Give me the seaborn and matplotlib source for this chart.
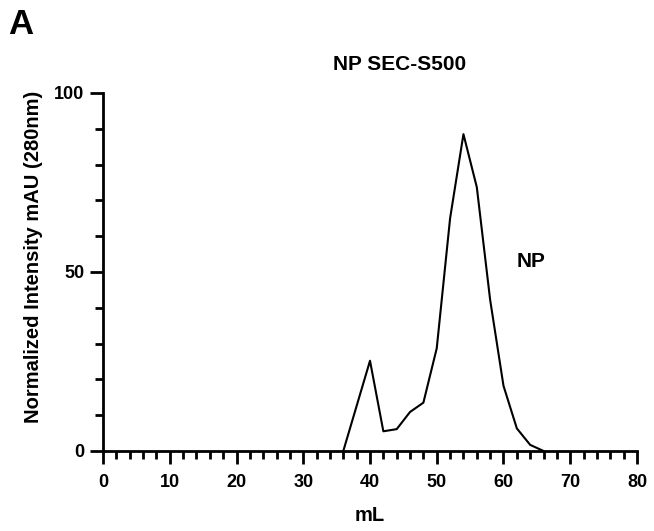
import matplotlib
matplotlib.use("Agg")
import matplotlib.pyplot as plt
from matplotlib.ticker import MultipleLocator
import seaborn as sns
import pandas as pd

# elution volume (mL) and normalized absorbance
volume_ml = [36, 40, 42, 44, 46, 48, 50, 52, 54, 56, 58, 60, 62, 64, 66]
intensity = [0, 25.2, 5.5, 6.1, 10.9, 13.5, 28.7, 65.0, 88.5, 73.7, 42.2, 18.2, 6.3, 1.7, 0]
x_ticks = [0, 10, 20, 30, 40, 50, 60, 70, 80]
y_ticks = [0, 50, 100]

df = pd.DataFrame({"mL": volume_ml, "val": intensity})

sns.set_style("ticks")
plt.rcParams["font.family"] = ["Liberation Sans", "DejaVu Sans"]
plt.rcParams["font.weight"] = "bold"
plt.rcParams["text.color"] = "black"
plt.rcParams["axes.labelcolor"] = "black"

fig = plt.figure(figsize=(6.54, 5.31), dpi=100)
ax = fig.add_axes([0.1575, 0.1507, 0.8165, 0.6742])

sns.lineplot(data=df, x="mL", y="val", color="black", linewidth=1.5, ax=ax)

ax.set_xlim(0, 80)
ax.set_ylim(0, 100)
ax.set_xticks(x_ticks)
ax.set_yticks(y_ticks)
ax.xaxis.set_minor_locator(MultipleLocator(2))
ax.yaxis.set_minor_locator(MultipleLocator(10))
ax.tick_params(axis="both", which="major", length=9.5, width=2, labelsize=13,
               colors="black", pad=4)
ax.tick_params(axis="x", which="major", pad=7)
ax.tick_params(axis="both", which="minor", length=5.5, width=2, colors="black")
for lab in ax.get_xticklabels() + ax.get_yticklabels():
    lab.set_fontweight("bold")

sns.despine(ax=ax)
for s in ["left", "bottom"]:
    ax.spines[s].set_linewidth(2)
    ax.spines[s].set_color("black")

ax.set_xlabel("mL", fontsize=14.5, fontweight="bold", labelpad=11)
ax.set_ylabel("")
fig.text(34 / 654, 1 - 257 / 531, "Normalized Intensity mAU (280nm)", rotation=90,
         fontsize=14.5, fontweight="bold", ha="center", va="center")
fig.text(400 / 654, 1 - 64 / 531, "NP SEC-S500", fontsize=15, fontweight="bold",
         ha="center", va="center")

ax.text(62.0, 52.8, "NP", fontsize=15, fontweight="bold", va="center")
fig.text(0.012, 0.985, "A", fontsize=25, fontweight="bold", va="top")

fig.savefig("out.png", dpi=100)
